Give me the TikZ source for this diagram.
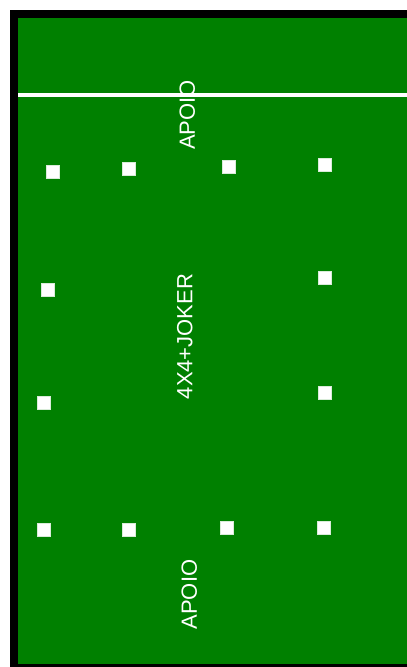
\documentclass[tikz,border=0pt]{standalone}
\usepackage{fontspec}
\setmainfont{Liberation Sans}
\definecolor{field}{HTML}{008000}
\begin{document}
\begin{tikzpicture}[x=1pt,y=-1pt,
  cone/.style={fill=white,draw=white!85!field,line width=0.6pt,minimum size=13.5pt,inner sep=0pt,rectangle},
  lbl/.style={text=white,rotate=90,inner sep=0pt,text height=15.8pt,text depth=0pt,font=\fontsize{22}{22}\selectfont}]
\useasboundingbox (0,0) rectangle (407,667);
\fill[white] (0,0) rectangle (407,667);
\fill[black] (10,10) rectangle (407,667);
\fill[field] (18,18) rectangle (407,663.5);
\draw[white,line width=3.5pt] (18,95) coordinate (l1) -- (407,95) coordinate (l2);
% labels
\node[lbl] (apoio1) at (187,115) {APOIO};
\node[lbl] (joker) at (184.5,336.5) {4X4+JOKER};
\node[lbl] (apoio2) at (189,594.5) {APOIO};
% cones
\node[cone] (c1) at (53,172) {};
\node[cone] (c2) at (129,168.7) {};
\node[cone] (c3) at (229,167) {};
\node[cone] (c4) at (325,165) {};
\node[cone] (c5) at (48,290) {};
\node[cone] (c6) at (325,278) {};
\node[cone] (c7) at (44,403) {};
\node[cone] (c8) at (325,392.7) {};
\node[cone] (c9) at (44,529.7) {};
\node[cone] (c10) at (129,529.7) {};
\node[cone] (c11) at (227,528) {};
\node[cone] (c12) at (323.7,528) {};
\end{tikzpicture}
\end{document}
